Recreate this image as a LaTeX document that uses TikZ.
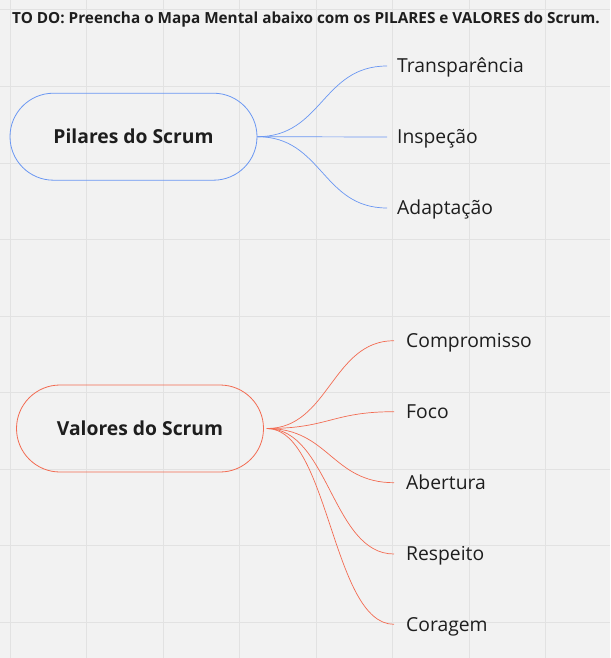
\documentclass[tikz,border=0pt]{standalone}
\usepackage{fontspec}
\setmainfont{Open Sans}
\definecolor{bgc}{HTML}{F2F2F2}
\definecolor{gridc}{HTML}{E2E2E2}
\definecolor{bluec}{HTML}{6A97F2}
\definecolor{redc}{HTML}{F26B52}
\definecolor{txtc}{HTML}{1E1E1E}
\begin{document}
\begin{tikzpicture}[x=1pt,y=-1pt,
  hub/.style={draw, line width=0.8pt, rounded corners=43.5pt, minimum width=247pt, minimum height=87pt,
    font=\fontsize{19.3}{22}\selectfont\bfseries, text=txtc, inner sep=0pt, text height=13.8pt, text depth=0pt},
  leaf/.style={anchor=west, font=\fontsize{19.3}{22}\selectfont, text=txtc, text height=13.8pt, text depth=0pt, inner ysep=0pt},
  bluelink/.style={draw=bluec, line width=0.7pt},
  redlink/.style={draw=redc, line width=0.7pt}]
\useasboundingbox (0,0) rectangle (610,658);
\fill[bgc] (0,0) rectangle (610,658);
\foreach \k in {0,...,8} {
  \draw[gridc, line width=1pt] ({10+76.5*\k},0) -- ({10+76.5*\k},658);
  \draw[gridc, line width=1pt] (0,{10+76.5*\k}) -- (610,{10+76.5*\k});
}
\node[anchor=west, inner sep=0pt, font=\fontsize{15.3}{17}\selectfont\bfseries, text=txtc, text height=10.9pt, text depth=0pt] (title) at (12,17.7) {TO DO: Preencha o Mapa Mental abaixo com os PILARES e VALORES do Scrum.};

\node[hub, draw=bluec] (p) at (133.5,136.7) {Pilares do Scrum};
\node[leaf, inner xsep=10pt] (t1) at (387,66) {Transparência};
\node[leaf, inner xsep=10pt] (t2) at (387,137) {Inspeção};
\node[leaf, inner xsep=10pt] (t3) at (387,208) {Adaptação};
\foreach \t in {t1,t2,t3}
  \draw[bluelink] (p.east) .. controls +(65,0) and +(-65,0) .. (\t.west);

\node[hub, draw=redc] (v) at (140,428.5) {Valores do Scrum};
\node[leaf, inner xsep=12pt] (r1) at (394,340.7) {Compromisso};
\node[leaf, inner xsep=12pt] (r2) at (394,411.7) {Foco};
\node[leaf, inner xsep=12pt] (r3) at (394,482.7) {Abertura};
\node[leaf, inner xsep=12pt] (r4) at (394,554) {Respeito};
\node[leaf, inner xsep=12pt] (r5) at (394,624.3) {Coragem};
\foreach \t in {r1,r2,r3,r4,r5}
  \draw[redlink] ([xshift=3pt]v.east) .. controls +(62,0) and +(-62,0) .. (\t.west);
\end{tikzpicture}
\end{document}
